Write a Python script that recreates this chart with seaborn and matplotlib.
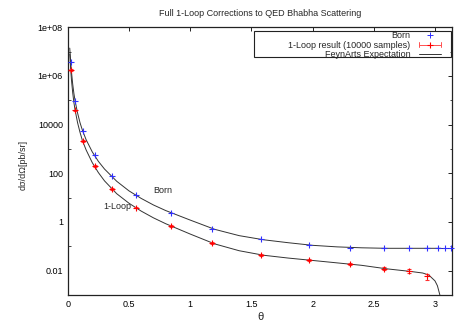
import numpy as np
import pandas as pd
import seaborn as sns
import matplotlib
matplotlib.use("Agg")
import matplotlib.pyplot as plt
from matplotlib.lines import Line2D
from matplotlib.patches import Rectangle
from matplotlib.legend_handler import HandlerBase
from matplotlib.ticker import FixedLocator, NullFormatter

# ---------------- data ----------------
title = "Full 1-Loop Corrections to QED Bhabha Scattering"
xlabel = "\u03b8"
ylabel = "d\u03c3/d\u03a9[pb/sr]"

# smooth "FeynArts Expectation" curves
curve_theta = [0.016, 0.02, 0.024, 0.03, 0.04, 0.05, 0.06, 0.08, 0.10, 0.12,
               0.15, 0.2, 0.25, 0.3, 0.4, 0.5, 0.6, 0.7, 0.8, 1.0,
               1.2, 1.4, 1.6, 1.8, 2.0, 2.2, 2.4, 2.6, 2.8, 2.9,
               2.95, 3.0, 3.02, 3.04, 3.05]
born_curve = [1.4e7, 7.4e6, 3.6e6, 1.5e6, 4.7e5, 1.9e5, 9.3e4, 3.0e4, 1.2e4, 5.8e3,
              2.4e3, 760, 310, 150, 47, 19, 9.3, 5.0, 2.95, 1.2,
              0.50, 0.275, 0.186, 0.141, 0.110, 0.095, 0.087, 0.083, 0.083, 0.083,
              0.083, 0.083, 0.083, 0.083, 0.083]
born_curve_tail_theta = [3.1, 3.1416]
born_curve_tail = [0.083, 0.083]
loop_curve = [8.0e6, 3.8e6, 1.8e6, 6.9e5, 2.1e5, 8.1e4, 3.9e4, 1.2e4, 4.8e3, 2.2e3,
              910, 275, 107, 49, 14.5, 5.9, 2.8, 1.48, 0.85, 0.32,
              0.126, 0.066, 0.043, 0.033, 0.0263, 0.0209, 0.0166, 0.012, 0.0093, 0.0080,
              0.0066, 0.0038, 0.0024, 0.0010, 0.0003]

# Born sample points
born_theta = [0.024, 0.059, 0.122, 0.22, 0.362, 0.56, 0.84, 1.178, 1.576, 1.968,
              2.308, 2.583, 2.788, 2.932, 3.025, 3.084, 3.131]
born_vals = [3.6e6, 9.4e4, 5.5e3, 550, 76, 12.6, 2.4, 0.53, 0.195, 0.11,
             0.089, 0.083, 0.083, 0.083, 0.083, 0.083, 0.083]

# 1-loop Monte-Carlo result (10000 samples) with errors
loop_theta = [0.024, 0.059, 0.122, 0.22, 0.362, 0.56, 0.84, 1.178, 1.576, 1.968,
              2.308, 2.583, 2.788, 2.932]
loop_vals = [1.8e6, 3.9e4, 2.1e3, 200, 23, 3.9, 0.69, 0.135, 0.044, 0.0275,
             0.0183, 0.012, 0.0098, 0.0058]
loop_err = [1.2e5, 2.6e3, 1.4e2, 14, 1.7, 0.3, 0.06, 0.012, 0.004, 0.0025,
            0.0018, 0.0018, 0.0017, 0.0016]

legend_labels = ["Born", "1-Loop result (10000 samples)", "FeynArts Expectation"]

xticks = [0, 0.5, 1, 1.5, 2, 2.5, 3]
xticklabels = ["0", "0.5", "1", "1.5", "2", "2.5", "3"]
yticks = [1e-2, 1, 1e2, 1e4, 1e6, 1e8]
yticklabels = ["0.01", "1", "100", "10000", "1e+06", "1e+08"]
yminor = [1e-3, 1e-1, 1e1, 1e3, 1e5, 1e7]

# ---------------- styling ----------------
sns.set_style("white")
plt.rcParams['font.family'] = ['Liberation Sans', 'DejaVu Sans']
FS = 6.5
LINE_C = "#333333"
BLUE = "#3030ff"

fig = plt.figure(figsize=(4.63, 3.24), dpi=100)
ax = fig.add_axes([0.1464, 0.0895, 0.8305, 0.8262])

curve_df = pd.DataFrame({"theta": curve_theta, "born": born_curve, "loop": loop_curve})
tail_df = pd.DataFrame({"theta": [curve_theta[-1]] + born_curve_tail_theta,
                        "born": [born_curve[-1]] + born_curve_tail})

sns.lineplot(data=curve_df, x="theta", y="born", ax=ax, color=LINE_C, lw=0.7,
             sort=False, estimator=None, zorder=2)
sns.lineplot(data=tail_df, x="theta", y="born", ax=ax, color=LINE_C, lw=0.7,
             sort=False, estimator=None, zorder=2)
sns.lineplot(data=curve_df, x="theta", y="loop", ax=ax, color=LINE_C, lw=0.7,
             sort=False, estimator=None, zorder=2)

ax.errorbar(loop_theta, loop_vals, yerr=loop_err, fmt='+', color='#ff0000',
            ecolor='#ff3030', elinewidth=0.7, capsize=1.6, capthick=0.7,
            markersize=4.5, mew=0.8, zorder=3)

ax.plot(born_theta, born_vals, ls='none', marker='+', color=BLUE,
        ms=4.8, mew=0.8, zorder=4, clip_on=False)

ax.set_yscale('log')
ax.set_xlim(0, np.pi)
ax.set_ylim(1e-3, 1e8)

ax.xaxis.set_major_locator(FixedLocator(xticks))
ax.set_xticklabels(xticklabels, fontsize=FS)
ax.yaxis.set_major_locator(FixedLocator(yticks))
ax.set_yticklabels(yticklabels, fontsize=FS)
ax.yaxis.set_minor_locator(FixedLocator(yminor))
ax.yaxis.set_minor_formatter(NullFormatter())
ax.tick_params(axis='both', which='major', direction='in', length=3.2, width=0.6,
               top=True, right=True, pad=3.5, colors='black')
ax.tick_params(axis='y', which='minor', direction='in', length=1.8, width=0.6,
               left=True, right=True)

for side, sp in ax.spines.items():
    sp.set_color('#222222')
    sp.set_linewidth(0.9)

ax.set_title(title, fontsize=FS, pad=8)
ax.set_xlabel(xlabel, fontsize=FS + 1.5, labelpad=2)
ax.set_ylabel(ylabel, fontsize=FS)
ax.yaxis.set_label_coords(-0.105, 0.485)

ax.text(0.696, 19.4, "Born", fontsize=FS, ha='left', va='center')
ax.text(0.29, 4.2, "1-Loop", fontsize=FS, ha='left', va='center')


# legend (gnuplot-like: text right-aligned, sample to the right)
class ErrHandler(HandlerBase):
    def create_artists(self, legend, orig_handle, xdescent, ydescent, width, height,
                       fontsize, trans):
        y = height / 2 - ydescent
        x0, x1 = -xdescent, width - xdescent
        cap = height * 0.35
        arts = [
            Line2D([x0, x1], [y, y], color='#ff5050', lw=0.7, transform=trans),
            Line2D([x0, x0], [y - cap, y + cap], color='#ff5050', lw=0.7, transform=trans),
            Line2D([x1, x1], [y - cap, y + cap], color='#ff5050', lw=0.7, transform=trans),
            Line2D([(x0 + x1) / 2], [y], marker='+', color='#ff0000', ms=4, mew=0.8,
                   ls='none', transform=trans),
        ]
        return arts


class ErrProxy:
    pass


h_born = Line2D([], [], marker='+', color=BLUE, ls='none', ms=4.5, mew=0.7)
h_loop = ErrProxy()
h_curve = Line2D([], [], color=LINE_C, lw=0.7)

leg = ax.legend([h_born, h_loop, h_curve], legend_labels, loc='upper right',
                bbox_to_anchor=(0.978, 0.995), bbox_transform=ax.transAxes,
                frameon=False, markerfirst=False, fontsize=FS, handlelength=2.4,
                handletextpad=1.0, labelspacing=0.05, borderaxespad=0, borderpad=0.3,
                handler_map={ErrProxy: ErrHandler()})

ax.add_patch(Rectangle((0.484, 0.888), 0.5126, 0.098, transform=ax.transAxes,
                       fill=False, edgecolor='#222222', lw=0.8, zorder=5))

fig.savefig("out.png", dpi=100)
